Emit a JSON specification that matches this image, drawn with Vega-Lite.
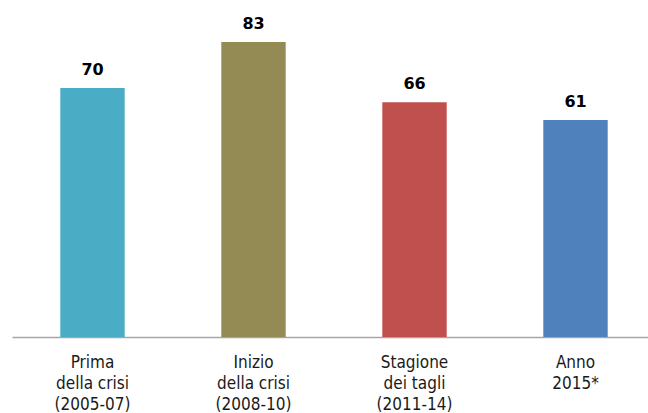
{
  "$schema": "https://vega.github.io/schema/vega-lite/v6.json",
  "width": 644,
  "height": 320,
  "autosize": "none",
  "padding": {"left": 12, "top": 17, "right": 0, "bottom": 76},
  "background": "white",
  "config": {"view": {"stroke": null}},
  "data": {
    "values": [
      {"periodo": "Prima|della crisi|(2005-07)", "valore": 70, "colore": "#4BACC6"},
      {"periodo": "Inizio|della crisi|(2008-10)", "valore": 83, "colore": "#948A54"},
      {"periodo": "Stagione|dei tagli|(2011-14)", "valore": 66, "colore": "#C0504D"},
      {"periodo": "Anno|2015*", "valore": 61, "colore": "#4F81BD"}
    ]
  },
  "encoding": {
    "x": {
      "field": "periodo",
      "type": "nominal",
      "sort": null,
      "scale": {"paddingInner": 0.6, "paddingOuter": 0.3},
      "axis": {
        "title": null,
        "labelAngle": 0,
        "labelExpr": "split(datum.label, '|')",
        "labelFont": "DejaVu Sans Condensed, DejaVu Sans",
        "labelFontSize": 17,
        "labelColor": "#1a1a1a",
        "labelLineHeight": 21,
        "labelPadding": 30,
        "labelBaseline": "alphabetic",
        "ticks": false,
        "domainColor": "#A6A6A6",
        "domainWidth": 1.5,
        "labelLimit": 0
      }
    },
    "y": {
      "field": "valore",
      "type": "quantitative",
      "scale": {"domain": [0, 90]},
      "axis": null
    }
  },
  "layer": [
    {
      "mark": {"type": "bar"},
      "encoding": {"color": {"field": "colore", "type": "nominal", "scale": null}}
    },
    {
      "mark": {"type": "text", "baseline": "alphabetic", "dy": -13, "font": "DejaVu Sans", "fontSize": 16, "fontWeight": "bold", "color": "#000000"},
      "encoding": {"text": {"field": "valore", "type": "quantitative"}}
    }
  ]
}
